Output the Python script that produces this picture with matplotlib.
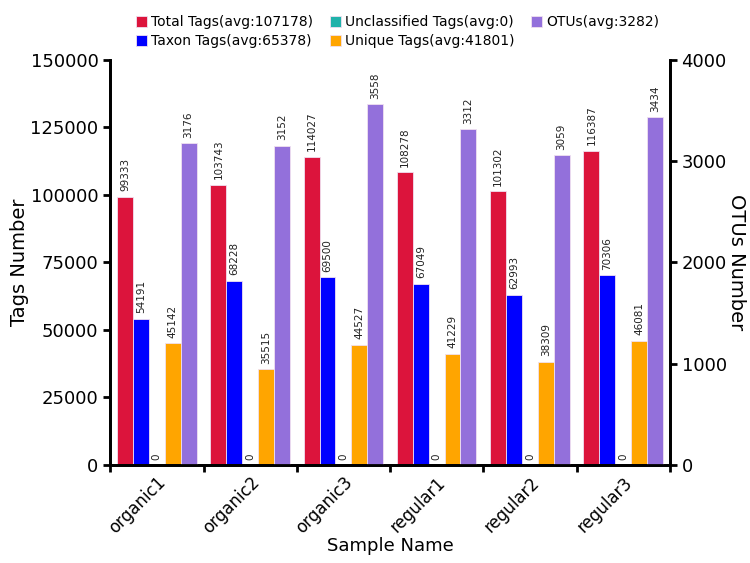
import numpy as np
import matplotlib
matplotlib.use("Agg")
import matplotlib.pyplot as plt

# data
samples = ["organic1", "organic2", "organic3", "regular1", "regular2", "regular3"]
total_tags = [99333, 103743, 114027, 108278, 101302, 116387]
taxon_tags = [54191, 68228, 69500, 67049, 62993, 70306]
unclassified_tags = [0, 0, 0, 0, 0, 0]
unique_tags = [45142, 35515, 44527, 41229, 38309, 46081]
otus = [3176, 3152, 3558, 3312, 3059, 3434]

series_names = ["Total Tags(avg:107178)", "Taxon Tags(avg:65378)",
                "Unclassified Tags(avg:0)", "Unique Tags(avg:41801)",
                "OTUs(avg:3282)"]
colors = ["#DC143C", "#0000FF", "#20B2AA", "#FFA500", "#9370DB"]

fig = plt.figure(figsize=(7.5, 5.63), dpi=100)
ax = fig.add_axes([0.147, 0.174, 0.746, 0.72])
ax2 = ax.twinx()

x = np.arange(len(samples))
w = 0.17
offsets = (np.arange(5) - 2) * w

tag_series = [total_tags, taxon_tags, unclassified_tags, unique_tags]
handles = []
for i, vals in enumerate(tag_series):
    b = ax.bar(x + offsets[i], vals, w, color=colors[i], edgecolor="#f0e0f0",
               linewidth=0.6, label=series_names[i])
    handles.append(b)
    for xi, v in zip(x + offsets[i], vals):
        ax.text(xi, v + 2000, str(v), rotation=90, ha="center", va="bottom",
                fontsize=7.5, color="#222222")

b = ax2.bar(x + offsets[4], otus, w, color=colors[4], edgecolor="#f0e0f0",
            linewidth=0.6, label=series_names[4])
handles.append(b)
for xi, v in zip(x + offsets[4], otus):
    ax2.text(xi, v + 53, str(v), rotation=90, ha="center", va="bottom",
             fontsize=7.5, color="#222222")

ax.set_xlim(-0.5, len(samples) - 0.5)
ax.set_ylim(0, 150000)
ax2.set_ylim(0, 4000)
ax.set_yticks(np.arange(0, 150001, 25000))
ax2.set_yticks(np.arange(0, 4001, 1000))

# ticks at group boundaries, labels at group centers
ax.set_xticks(np.arange(-0.5, len(samples), 1.0))
ax.set_xticklabels([])
ax.set_xticks(x, minor=True)
ax.set_xticklabels(samples, minor=True, rotation=45, ha="right",
                   rotation_mode="anchor", fontsize=12)
ax.tick_params(axis="x", which="minor", length=0, pad=6)
ax.tick_params(axis="x", which="major", length=5, width=2)

ax.tick_params(axis="y", labelsize=13, length=5, width=2)
ax2.tick_params(axis="y", labelsize=13, length=5, width=2)

for a in (ax, ax2):
    a.spines["top"].set_visible(False)
    for s in ("left", "right", "bottom"):
        a.spines[s].set_linewidth(2)

ax.set_ylabel("Tags Number", fontsize=14, labelpad=1)
ax2.set_ylabel("OTUs Number", fontsize=14, rotation=270, labelpad=14)
ax.set_xlabel("Sample Name", fontsize=13, labelpad=0)

fig.legend(handles=handles, labels=series_names, ncol=3, loc="upper center",
           bbox_to_anchor=(0.53, 0.995), frameon=False, fontsize=10,
           handlelength=0.8, handleheight=0.8, handletextpad=0.3,
           columnspacing=1.2, labelspacing=0.35)

fig.savefig("out.png", dpi=100)
